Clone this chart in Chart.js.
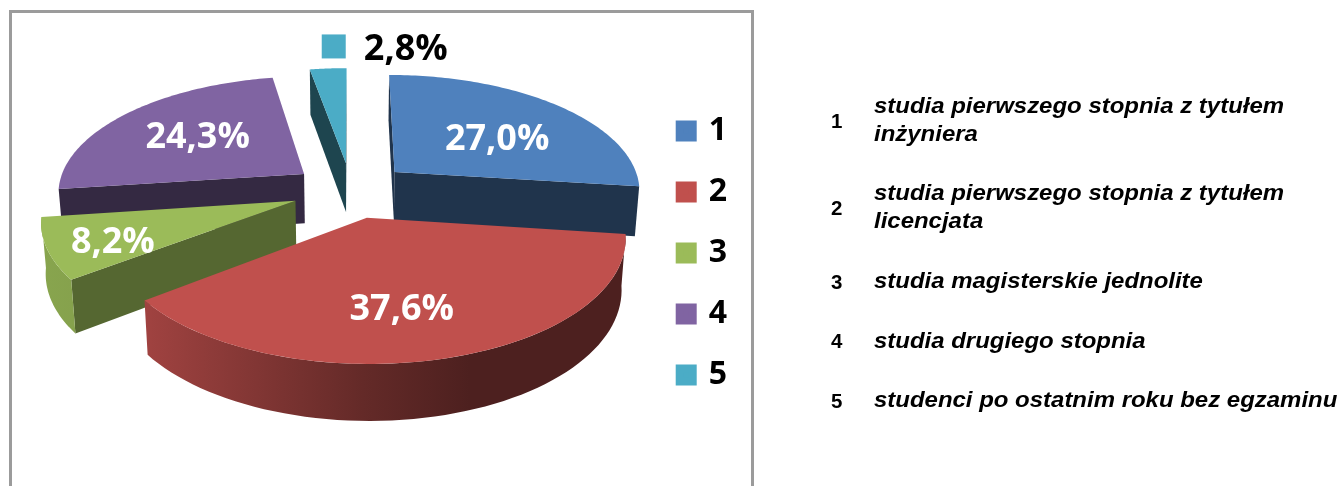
<!DOCTYPE html>
<html lang="pl"><head><meta charset="utf-8">
<script src="https://cdn.jsdelivr.net/npm/chart.js@4"></script>
<style>
html,body{margin:0;padding:0;width:1341px;height:486px;overflow:hidden;background:#fff}
#wrap{position:absolute;left:0;top:0;width:1341px;height:486px;overflow:hidden}
#frame{position:absolute;left:9px;top:10px;width:739px;height:500px;border:3px solid #9b9b9b;box-sizing:content-box}
canvas{position:absolute;left:0;top:0}
.t{position:absolute;font:italic bold 22.2px/27.5px "Liberation Sans",Arial,sans-serif;color:#000;white-space:nowrap;transform:scaleX(1.08);transform-origin:0 0}
.n{position:absolute;font:bold 20.5px/27px "Liberation Sans",Arial,sans-serif;color:#000}
</style></head><body>
<div id="wrap"><div id="frame"></div><canvas id="c" width="1341" height="486"></canvas><div id="notes"></div></div>
<script>
// ---- data ----
const categories = ['1','2','3','4','5'];
const values = [27.0,37.6,8.2,24.3,2.8];
const valueLabels = ['27,0%','37,6%','8,2%','24,3%','2,8%'];
const colors = ['#4f81bd','#c0504d','#9bbb59','#8064a2','#4bacc6'];
const descriptions = [
 ['studia pierwszego stopnia z tytułem','inżyniera'],
 ['studia pierwszego stopnia z tytułem','licencjata'],
 ['studia magisterskie jednolite'],
 ['studia drugiego stopnia'],
 ['studenci po ostatnim roku bez egzaminu']];

// ---- 3D look: plane projection of the library's arc angles ----
const view = {cx:351,cy:190,rx:247,ry:116,k:0.145,explode:0.24,depth:50,sx:0.985,sy:1.04};
const drawOrder = [4,3,0,2,1];
const wallShade = [0.40,0.40,0.55,0.41,0.40];
const rimStops = [[40,0.88],[150,0.83],[363,0.52],[470,0.40],[640,0.40]];
const labelNudge = [[2,9],[-10,13],[-37,14],[3,1],[71,-54]];
const labelColor = ['#fff','#fff','#fff','#fff','#000'];

function project(u,v,lower){
  const d=1-view.k*v; let X=view.rx*u/d, Y=view.ry*v/d;
  if(lower){X*=view.sx; Y=Y*view.sy+view.depth;}
  return [view.cx+X,view.cy+Y];
}
function shade(hex,f){
  const n=parseInt(hex.slice(1),16);
  return `rgb(${Math.round((n>>16&255)*f)},${Math.round((n>>8&255)*f)},${Math.round((n&255)*f)})`;
}
function fillPoly(ctx,pts,style){
  ctx.beginPath(); pts.forEach((p,i)=>i?ctx.lineTo(p[0],p[1]):ctx.moveTo(p[0],p[1])); ctx.closePath();
  ctx.fillStyle=style; ctx.fill();
}
function area(p){let s=0;for(let i=0;i<p.length;i++){const q=p[(i+1)%p.length];s+=p[i][0]*q[1]-q[0]*p[i][1];}return s;}

const pie3d = {
  id:'pie3d',
  beforeDatasetDraw(){ return false; },
  afterDatasetsDraw(chart){
    const ctx=chart.ctx, arcs=chart.getDatasetMeta(0).data;
    ctx.save();
    drawOrder.forEach(i=>{
      const a=arcs[i], s=a.startAngle, e=a.endAngle, m=(s+e)/2;
      const ox=view.explode*Math.cos(m), oy=view.explode*Math.sin(m);
      const P=(t,low)=>project(ox+Math.cos(t),oy+Math.sin(t),low);
      const A=low=>project(ox,oy,low);
      // radial walls
      const wS=[A(0),P(s,0),P(s,1),A(1)], wE=[A(0),P(e,0),P(e,1),A(1)];
      const wall=shade(colors[i],wallShade[i]);
      if(area(wS)<0) fillPoly(ctx,wS,wall);
      if(area(wE)>0) fillPoly(ctx,wE,wall);
      // rim wall (front half of the disc)
      const s2=Math.max(s,-0.02), e2=Math.min(e,Math.PI+0.02);
      if(e2>s2 && i!==0 && i!==3){
        const n=64, top=[], bot=[];
        for(let j=0;j<=n;j++){const t=s2+(e2-s2)*j/n; top.push(P(t,0)); bot.push(P(t,1));}
        const g=ctx.createLinearGradient(rimStops[0][0],0,rimStops[rimStops.length-1][0],0);
        const w=rimStops[rimStops.length-1][0]-rimStops[0][0];
        rimStops.forEach(r=>g.addColorStop((r[0]-rimStops[0][0])/w,shade(colors[i],r[1])));
        fillPoly(ctx,top.concat(bot.reverse()),g);
      }
      // top face
      const face=[A(0)], n=96;
      for(let j=0;j<=n;j++) face.push(P(s+(e-s)*j/n,0));
      fillPoly(ctx,face,colors[i]);
    });
    // value labels
    ctx.textAlign='center'; ctx.textBaseline='middle';
    ctx.font='bold 36px "Open Sans",sans-serif';
    arcs.forEach((a,i)=>{
      const m=(a.startAngle+a.endAngle)/2, r=view.explode+0.6;
      const p=project(r*Math.cos(m),r*Math.sin(m),0);
      const x=p[0]+labelNudge[i][0], y=p[1]+labelNudge[i][1];
      ctx.fillStyle=labelColor[i];
      ctx.fillText(valueLabels[i],x,y);
      if(labelColor[i]==='#000'){ ctx.fillStyle=colors[i]; ctx.fillRect(x-84,y-15,24,24); }
    });
    ctx.restore();
  }
};

new Chart(document.getElementById('c'),{
  type:'pie',
  data:{labels:categories,datasets:[{data:values,backgroundColor:colors,borderWidth:0}]},
  options:{
    responsive:false,animation:false,
    layout:{padding:{top:86,right:604,left:0,bottom:0}},
    plugins:{
      tooltip:{enabled:false},
      legend:{
        display:true,position:'right',align:'start',
        labels:{
          boxWidth:13,boxHeight:13,padding:29,color:'#000',
          font:{family:'"Open Sans",sans-serif',size:32,weight:'bold',lineHeight:1.2},
          generateLabels:()=>categories.map((c,i)=>({text:c,fillStyle:colors[i],strokeStyle:colors[i],lineWidth:8,lineJoin:'miter',hidden:false,index:i}))
        }
      }
    }
  },
  plugins:[pie3d]
});

// ---- description list on the right ----
const itemBaselines=[113,200,288,348,407], numBaselines=[127,214,288,347,407];
const notes=document.getElementById('notes');
descriptions.forEach((lines,i)=>{
  const t=document.createElement('div'); t.className='t';
  t.style.left='874px'; t.style.top=(itemBaselines[i]-21)+'px';
  t.innerHTML=lines.join('<br>'); notes.appendChild(t);
  const n=document.createElement('div'); n.className='n';
  n.style.left='831px'; n.style.top=(numBaselines[i]-20)+'px';
  n.textContent=categories[i]; notes.appendChild(n);
});
</script></body></html>
